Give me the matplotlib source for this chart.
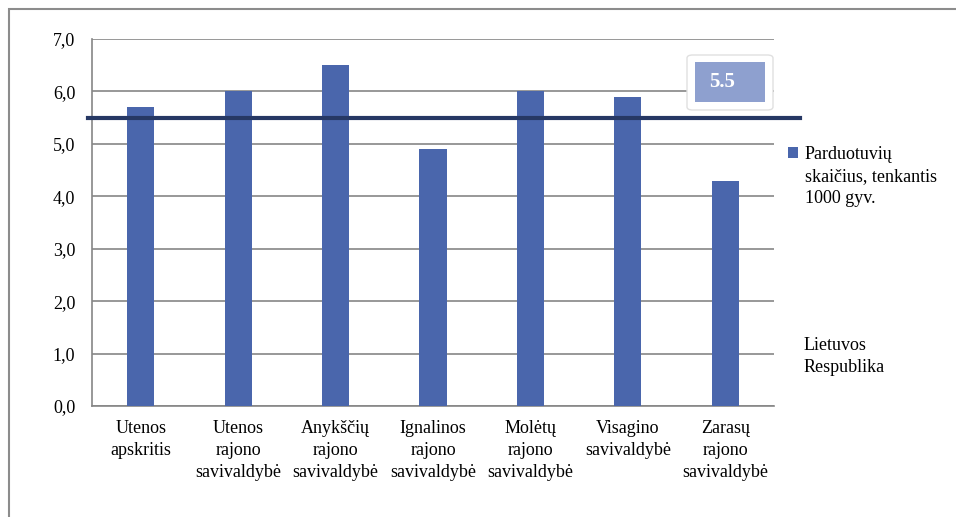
import matplotlib
matplotlib.use('Agg')
import matplotlib.pyplot as plt
from matplotlib.patches import FancyBboxPatch, Rectangle
from matplotlib.ticker import FuncFormatter

plt.rcParams['font.family'] = 'serif'
plt.rcParams['font.serif'] = ['Liberation Serif', 'DejaVu Serif']

categories = ["Utenos\napskritis", "Utenos\nrajono\nsavivaldybė", "Anykščių\nrajono\nsavivaldybė",
              "Ignalinos\nrajono\nsavivaldybė", "Molėtų\nrajono\nsavivaldybė",
              "Visagino\nsavivaldybė", "Zarasų\nrajono\nsavivaldybė"]
shops_per_1000 = [5.7, 6.0, 6.5, 4.9, 6.0, 5.9, 4.3]
lt_average = 5.5
series_name = ["Parduotuvių", "skaičius, tenkantis", "1000 gyv."]
line_name = "Lietuvos\nRespublika"

W, H = 956, 517
fig = plt.figure(figsize=(W / 100, H / 100), dpi=100)
ax = fig.add_axes([92 / W, 1 - 406 / H, 682 / W, 367 / H])

x = range(len(categories))
bars = ax.bar(x, shops_per_1000, width=0.28, color='#4a66ac', zorder=3)
ax.axhline(lt_average, xmin=-0.006, xmax=1.038, color='#263864', lw=3, zorder=4, clip_on=False)

ax.set_xlim(-0.5, len(categories) - 0.5)
ax.set_ylim(0, 7)
ax.set_yticks([i for i in range(8)])
ax.yaxis.set_major_formatter(FuncFormatter(lambda v, p: f"{v:.1f}".replace('.', ',')))
ax.set_xticks(list(x))
ax.set_xticklabels(categories, linespacing=1.4)
ax.tick_params(axis='both', length=0, labelsize=13)
ax.tick_params(axis='y', pad=12)
ax.tick_params(axis='x', pad=10)
ax.grid(axis='y', color='#868686', lw=1.2, zorder=0)
for s in ['top', 'right']:
    ax.spines[s].set_visible(False)
for s in ['left', 'bottom']:
    ax.spines[s].set_color('#868686')
    ax.spines[s].set_linewidth(1.2)

# value label box for the reference line
outer = FancyBboxPatch((687 / W, 1 - 110 / H), 86 / W, 55 / H, boxstyle="round,pad=0,rounding_size=0.006",
                       transform=fig.transFigure, facecolor='white', edgecolor='#e0e0e0', lw=1.0, zorder=5)
fig.patches.append(outer)
inner = Rectangle((695 / W, 1 - 102 / H), 70 / W, 40 / H, transform=fig.transFigure,
                  facecolor='#8ea0cf', edgecolor='none', zorder=6)
fig.patches.append(inner)
fig.text(722 / W, 1 - 82 / H, f"{lt_average}", color='white', fontsize=15, fontweight='bold',
         ha='center', va='center', zorder=7)

fig.legend(handles=[bars], labels=[series_name[0]], loc='upper left', bbox_to_anchor=(788 / W, 1 - 146 / H),
           frameon=False, fontsize=13, handlelength=0.55, handleheight=0.55, handletextpad=0.35,
           borderpad=0, borderaxespad=0)
fig.text(805 / W, 1 - 168 / H, "\n".join(series_name[1:]), fontsize=13, ha='left', va='top', linespacing=1.35)
fig.text(804 / W, 1 - 337 / H, line_name, fontsize=13, ha='left', va='top', linespacing=1.35)

# outer chart frame
fig.patches.append(Rectangle((9 / W, -0.1), 1.2, 1.1 - 9 / H, transform=fig.transFigure,
                             facecolor='none', edgecolor='#8c8c8c', lw=1.5))

fig.savefig("out.png", dpi=100)
